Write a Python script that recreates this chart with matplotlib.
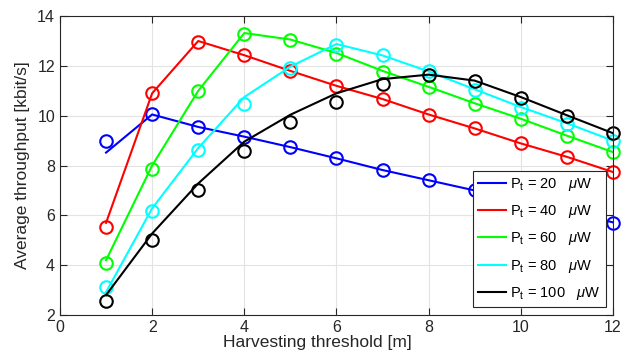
import matplotlib
matplotlib.use("Agg")
import matplotlib.pyplot as plt

plt.rcParams['font.family'] = ['Liberation Sans', 'DejaVu Sans']
plt.rcParams['mathtext.fontset'] = 'custom'
plt.rcParams['mathtext.rm'] = 'Liberation Sans'
plt.rcParams['mathtext.it'] = 'Liberation Sans:italic'

# harvesting threshold [m]
x = [1, 2, 3, 4, 5, 6, 7, 8, 9, 10, 11, 12]

# analysis (lines)
line_20 = [8.52, 10.05, 9.55, 9.16, 8.74, 8.29, 7.82, 7.41, 7.0, 6.58, 6.15, 5.72]
line_40 = [5.7, 10.9, 13.0, 12.43, 11.8, 11.2, 10.67, 10.05, 9.49, 8.89, 8.35, 7.74]
line_60 = [4.2, 8.0, 11.0, 13.32, 13.06, 12.52, 11.8, 11.16, 10.5, 9.88, 9.2, 8.54]
line_80 = [2.92, 6.28, 8.7, 10.75, 11.97, 12.88, 12.42, 11.78, 11.06, 10.35, 9.7, 9.0]
line_100 = [2.8, 5.27, 7.28, 8.96, 10.04, 10.9, 11.47, 11.65, 11.41, 10.75, 10.02, 9.3]

# simulation (markers)
sim_20 = [8.97, 10.05, 9.54, 9.15, 8.74, 8.29, 7.82, 7.4, 7.02, 6.58, 6.15, 5.71]
sim_40 = [5.55, 10.9, 12.98, 12.42, 11.8, 11.2, 10.67, 10.03, 9.49, 8.89, 8.35, 7.73]
sim_60 = [4.07, 7.88, 10.98, 13.3, 13.06, 12.46, 11.77, 11.14, 10.48, 9.87, 9.18, 8.53]
sim_80 = [3.14, 6.16, 8.62, 10.47, 11.9, 12.82, 12.43, 11.79, 11.03, 10.32, 9.67, 8.98]
sim_100 = [2.58, 5.03, 7.03, 8.6, 9.76, 10.54, 11.27, 11.63, 11.39, 10.7, 10.0, 9.29]

labels = [r'P$_{\rm t}$ = 20   $\mu$W', r'P$_{\rm t}$ = 40   $\mu$W',
          r'P$_{\rm t}$ = 60   $\mu$W', r'P$_{\rm t}$ = 80   $\mu$W',
          r'P$_{\rm t}$ = 100   $\mu$W']
colors = ['#0000ff', '#ff0000', '#00ff00', '#00ffff', '#000000']
lines = [line_20, line_40, line_60, line_80, line_100]
sims = [sim_20, sim_40, sim_60, sim_80, sim_100]

fig = plt.figure(figsize=(6.28, 3.5), dpi=100)
ax = fig.add_axes([0.0955, 0.1, 0.8805, 0.854])

for ln, sm, c, lab in zip(lines, sims, colors, labels):
    ax.plot(x, ln, color=c, lw=1.5, label=lab)
    ax.plot(x, sm, 'o', color=c, mfc='none', mew=1.5, ms=9, clip_on=False)

ax.set_xlim(0, 12)
ax.set_ylim(2, 14)
ax.set_xticks(range(0, 13, 2))
ax.set_yticks(range(2, 15, 2))
ax.grid(True, color='#e3e3e3', lw=0.8)
ax.set_axisbelow(True)
ax.tick_params(direction='in', top=True, right=True, labelsize=11.5,
               colors='#262626', length=5)
for s in ax.spines.values():
    s.set_color('#262626')
    s.set_linewidth(0.8)

ax.set_ylabel('Average throughput [kbit/s]', fontsize=12.5, color='#262626', labelpad=5)
fig.text(0.505, 0.0, 'Harvesting threshold [m]', fontsize=12.5,
         color='#262626', ha='center', va='bottom')

leg = ax.legend(loc='lower right', bbox_to_anchor=(0.987, 0.027),
                borderaxespad=0, fontsize=10.5, handlelength=1.9,
                handletextpad=0.3, labelspacing=0.7, fancybox=False,
                framealpha=1, edgecolor='#262626', borderpad=0.35)
leg.get_frame().set_linewidth(0.8)

fig.savefig('out.png', dpi=100)
